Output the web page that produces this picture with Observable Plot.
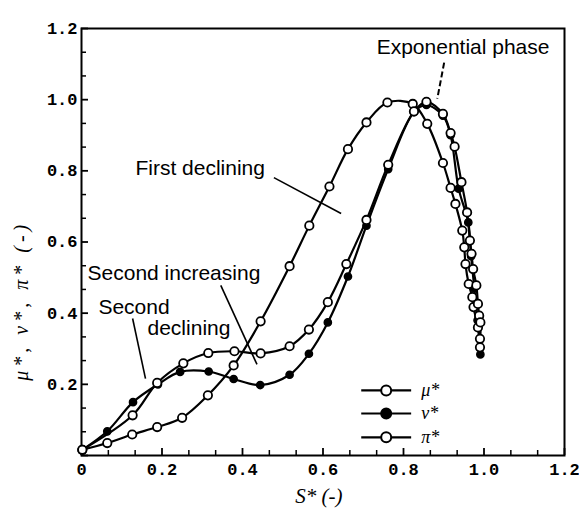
<!DOCTYPE html>
<html><head><meta charset="utf-8">
<script src="https://cdn.jsdelivr.net/npm/d3@7"></script>
<script src="https://cdn.jsdelivr.net/npm/@observablehq/plot@0.6"></script>
<style>body{margin:0;background:#fff}</style>
</head><body><div id="chart"></div>
<script>
// ---- data ----
const muX = [0.002, 0.064, 0.126, 0.188, 0.25, 0.314, 0.378, 0.445, 0.517, 0.566, 0.616, 0.662, 0.708, 0.76, 0.823, 0.859, 0.898, 0.917, 0.929, 0.946, 0.951, 0.954, 0.962, 0.971, 0.974, 0.985, 0.99];
const muY = [0.016, 0.035, 0.059, 0.08, 0.106, 0.169, 0.253, 0.377, 0.532, 0.646, 0.756, 0.861, 0.936, 0.992, 0.988, 0.932, 0.822, 0.752, 0.707, 0.632, 0.585, 0.538, 0.482, 0.445, 0.417, 0.36, 0.328];
const nuX = [0.002, 0.064, 0.128, 0.19, 0.245, 0.316, 0.378, 0.444, 0.517, 0.565, 0.612, 0.662, 0.708, 0.762, 0.826, 0.857, 0.898, 0.917, 0.937, 0.961, 0.968, 0.976, 0.984, 0.991];
const nuY = [0.016, 0.068, 0.15, 0.2, 0.235, 0.236, 0.215, 0.198, 0.227, 0.286, 0.374, 0.503, 0.646, 0.805, 0.965, 0.985, 0.955, 0.9, 0.75, 0.655, 0.56, 0.47, 0.38, 0.284];
const piX = [0.002, 0.127, 0.188, 0.253, 0.315, 0.38, 0.445, 0.517, 0.565, 0.612, 0.658, 0.708, 0.762, 0.826, 0.857, 0.898, 0.917, 0.927, 0.944, 0.958, 0.965, 0.969, 0.973, 0.981, 0.985, 0.988, 0.991, 0.99];
const piY = [0.016, 0.113, 0.204, 0.259, 0.288, 0.293, 0.287, 0.307, 0.354, 0.431, 0.538, 0.662, 0.817, 0.967, 0.994, 0.96, 0.906, 0.868, 0.768, 0.683, 0.604, 0.567, 0.524, 0.478, 0.426, 0.393, 0.374, 0.304];

const xMajorTicks = [0, 0.2, 0.4, 0.6, 0.8, 1.0, 1.2];
const yMajorTicks = [0, 0.2, 0.4, 0.6, 0.8, 1.0, 1.2];
const yLabelTicks = [0.2, 0.4, 0.6, 0.8, 1.0, 1.2];
const minorTicks = [0.0667, 0.1333, 0.2667, 0.3333, 0.4667, 0.5333, 0.6667, 0.7333, 0.8667, 0.9333, 1.0667, 1.1333];

const xTitle = "S* (-)";
const yTitle = "μ*, ν*, π* (-)";
const xTitlePos = {x: 0.59, y: -0.115};
const yTitlePos = {x: -0.148, y: 0.435};

// annotations (data units)
const annoText = ["First declining", "Second increasing", "Second", "declining"];
const annoX = [0.134, 0.015, 0.042, 0.164];
const annoY = [0.806, 0.511, 0.416, 0.357];
const expText = ["Exponential phase"];
const expX = [0.948], expY = [1.146];
const arrowX1 = [0.478, 0.346, 0.127];
const arrowY1 = [0.781, 0.478, 0.385];
const arrowX2 = [0.645, 0.436, 0.159];
const arrowY2 = [0.680, 0.256, 0.216];
const expArrow = {x1: 0.901, y1: 1.104, x2: 0.884, y2: 1.003};

// legend
const legendLabels = ["μ*", "ν*", "π*"];
const legendFilled = [false, true, false];
const legendY = [0.183, 0.118, 0.051];
const legendLineX = [0.695, 0.819];
const legendMarkX = 0.757;
const legendTextX = 0.844;

// ---- build tables ----
const rows = [];
muX.forEach((x, i) => rows.push({s: "mu", x, y: muY[i]}));
nuX.forEach((x, i) => rows.push({s: "nu", x, y: nuY[i]}));
piX.forEach((x, i) => rows.push({s: "pi", x, y: piY[i]}));
const annos = annoText.map((t, i) => ({t, x: annoX[i], y: annoY[i]}));
const arrows = arrowX1.map((x1, i) => ({x1, y1: arrowY1[i], x2: arrowX2[i], y2: arrowY2[i]}));
const legend = legendLabels.map((l, i) => ({l, f: legendFilled[i], y: legendY[i]}));

const W = 579, H = 512, mL = 81, mR = 15, mT = 28, mB = 57;
const plotW = W - mL - mR, plotH = H - mT - mB;
const sans = "Liberation Sans, Arial, sans-serif";
const serif = "Liberation Serif, Times New Roman, serif";

const chart = Plot.plot({
  width: W, height: H,
  marginLeft: mL, marginRight: mR, marginTop: mT, marginBottom: mB,
  x: {domain: [0, 1.2]},
  y: {domain: [0, 1.2]},
  style: {fontFamily: "Liberation Mono, monospace", fontSize: "17px", fontWeight: "bold", color: "black", background: "white"},
  marks: [
    Plot.tickX(minorTicks, {x: d => d, insetTop: plotH - 5, stroke: "black", strokeWidth: 1.5}),
    Plot.tickX(xMajorTicks, {x: d => d, insetTop: plotH - 7, stroke: "black", strokeWidth: 1.8}),
    Plot.tickY(minorTicks, {y: d => d, insetRight: plotW - 5, stroke: "black", strokeWidth: 1.5}),
    Plot.tickY(yMajorTicks, {y: d => d, insetRight: plotW - 7, stroke: "black", strokeWidth: 1.8}),
    Plot.axisX({ticks: xMajorTicks, tickFormat: d => d === 0 ? "0" : d.toFixed(1), tickSize: 0, tickPadding: 7, label: null}),
    Plot.axisY({ticks: yLabelTicks, tickFormat: d => d.toFixed(1), tickSize: 0, tickPadding: 4, label: null}),
    Plot.frame({stroke: "black", strokeWidth: 2}),
    Plot.line(rows, {x: "x", y: "y", z: "s", curve: "catmull-rom", stroke: "black", strokeWidth: 2.2}),
    Plot.dot(rows.filter(d => d.s === "nu"), {x: "x", y: "y", r: 3.6, fill: "black", stroke: "black"}),
    Plot.dot(rows.filter(d => d.s !== "nu"), {x: "x", y: "y", r: 4.2, fill: "white", stroke: "black", strokeWidth: 1.8}),
    // annotations
    Plot.link(arrows, {x1: "x1", y1: "y1", x2: "x2", y2: "y2", stroke: "black", strokeWidth: 1.6}),
    Plot.link([expArrow], {x1: "x1", y1: "y1", x2: "x2", y2: "y2", stroke: "black", strokeWidth: 2, strokeDasharray: "6,3"}),
    Plot.text(annos, {x: "x", y: "y", text: "t", textAnchor: "start", fontFamily: sans, fontWeight: "normal", fontSize: 21, fill: "black"}),
    Plot.text(expText, {x: () => expX[0], y: () => expY[0], text: d => d, textAnchor: "middle", fontFamily: sans, fontWeight: "normal", fontSize: 21, fill: "black"}),
    // legend
    Plot.link(legend, {x1: () => legendLineX[0], x2: () => legendLineX[1], y1: "y", y2: "y", stroke: "black", strokeWidth: 2.2}),
    Plot.dot(legend, {x: () => legendMarkX, y: "y", r: 5, fill: d => d.f ? "black" : "white", stroke: "black", strokeWidth: 2}),
    Plot.text(legend, {x: () => legendTextX, y: "y", text: "l", textAnchor: "start", fontFamily: serif, fontStyle: "italic", fontWeight: "normal", fontSize: 18, fill: "black"}),
    // axis titles
    Plot.text([xTitle], {x: () => xTitlePos.x, y: () => xTitlePos.y, text: d => d, fontFamily: serif, fontStyle: "italic", fontWeight: "normal", fontSize: 21, fill: "black"}),
    Plot.text([yTitle], {x: () => yTitlePos.x, y: () => yTitlePos.y, rotate: -90, text: d => d, fontFamily: serif, fontStyle: "italic", fontWeight: "normal", fontSize: 20, fill: "black"})
  ]
});
// widen the letter spacing of the y title like the reference
d3.select(chart).selectAll("text").filter(function() { return this.textContent === yTitle; }).style("letter-spacing", "4px");
document.getElementById("chart").appendChild(chart);
</script>
</body></html>
